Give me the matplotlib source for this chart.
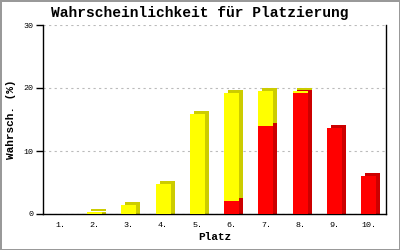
import matplotlib.pyplot as plt
import matplotlib.transforms as mtransforms

# Daten
platz = ['1.', '2.', '3.', '4.', '5.', '6.', '7.', '8.', '9.', '10.']
rot = [0, 0, 0, 0, 0, 2.1, 14.0, 19.2, 13.7, 6.1]
gelb = [0, 0.3, 1.5, 4.8, 15.8, 17.1, 5.5, 0.3, 0, 0]
yticks = [0, 10, 20, 30]

plt.rcParams['font.family'] = ['Liberation Mono', 'DejaVu Sans Mono']

fig = plt.figure(figsize=(4, 2.5), dpi=100, linewidth=2, edgecolor='#999999')
ax = fig.add_axes([0.1075, 0.144, 0.8575, 0.756])

x = list(range(1, len(platz) + 1))
w = 0.44

# 3D-Effekt: dunklere, versetzte Balken dahinter (Seite + Deckel)
for dx, dy in [(4, 0), (4, 3)]:
    shift = mtransforms.ScaledTranslation(dx / 100, dy / 100, fig.dpi_scale_trans)
    trans = ax.transData + shift
    s1 = ax.bar(x, rot, w, color='#cc0000', zorder=2)
    s2 = ax.bar(x, gelb, w, bottom=rot, color='#cccc00', zorder=2)
    for p in list(s1) + list(s2):
        p.set_transform(trans)

ax.bar(x, rot, w, color='#ff0000', zorder=3)
ax.bar(x, gelb, w, bottom=rot, color='#ffff00', zorder=3)

ax.set_xlim(0.5, 10.5)
ax.set_ylim(0, 30)
ax.set_xticks(x)
ax.set_xticklabels(platz, fontsize=6)
ax.set_yticks(yticks)
ax.set_yticklabels([str(t) for t in yticks], fontsize=6)
ax.tick_params(axis='x', length=0, pad=6)
ax.tick_params(axis='y', length=5, width=1, pad=2)
ax.grid(axis='y', color='#bbbbbb', linestyle=(0, (2, 3)), linewidth=0.8, zorder=0)
ax.set_axisbelow(True)
ax.spines['top'].set_visible(False)
for s in ['left', 'right', 'bottom']:
    ax.spines[s].set_linewidth(1)

fig.text(0.5, 0.948, 'Wahrscheinlichkeit für Platzierung', fontsize=10.5,
         fontweight='bold', ha='center', va='center')
ax.set_xlabel('Platz', fontsize=8, fontweight='bold', labelpad=2)
ax.set_ylabel('Wahrsch. (%)', fontsize=8, fontweight='bold', labelpad=5)

fig.savefig('out.png', dpi=100)
